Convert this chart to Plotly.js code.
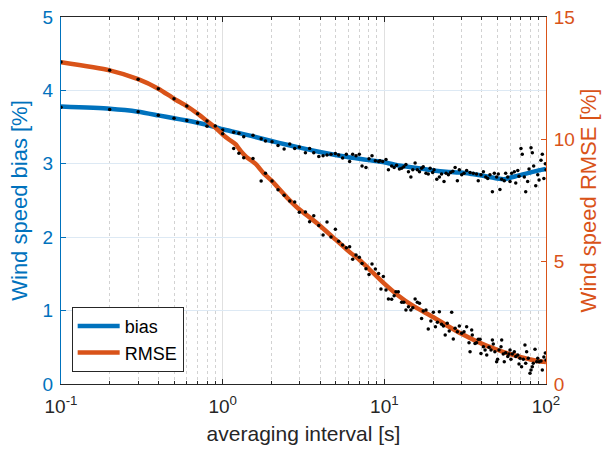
<!DOCTYPE html>
<html>
<head>
<meta charset="utf-8">
<script src="https://cdn.plot.ly/plotly-3.0.1.min.js"></script>
<style>html,body{margin:0;padding:0;background:#fff;}#chart{width:604px;height:454px;}</style>
</head>
<body>
<div id="chart"></div>
<script>
// Smooth lines
var biasLineX = [0.1,0.2,0.3,0.4,0.5,0.6,0.7,0.8,0.9,1,1.2,1.5,2,2.5,3,4,5,6,7,8,10,12,15,20,25,30,35,40,45,50,55,60,70,80,90,100];
var biasLineY = [3.78,3.75,3.71,3.66,3.62,3.59,3.56,3.53,3.50,3.47,3.43,3.38,3.31,3.26,3.22,3.16,3.12,3.09,3.07,3.05,3.02,2.98,2.95,2.91,2.89,2.88,2.86,2.84,2.82,2.80,2.79,2.81,2.85,2.88,2.91,2.93];
var rmseLineX = [0.1,0.2,0.3,0.4,0.5,0.6,0.7,0.8,0.9,1,1.1,1.2,1.3,1.4,1.6,1.8,2,2.5,3,3.5,4,5,6,7,8,10,12,15,20,25,30,40,50,60,70,80,90,100];
var rmseLineY = [13.15,12.82,12.46,12.07,11.66,11.36,11.05,10.75,10.48,10.2,9.98,9.8,9.5,9.28,9.0,8.6,8.32,7.62,7.12,6.78,6.47,5.9,5.43,5.08,4.72,4.1,3.65,3.2,2.74,2.35,2.05,1.65,1.4,1.22,1.1,1.0,0.93,0.9];

// Scatter dots
var biasDotX = [0.1,0.2,0.3,0.4,0.5,0.6,0.7,0.8,0.9,1.0,1.17,1.26,1.35,1.54,1.73,1.84,2.02,2.2,2.4,2.6,2.79,2.98,3.25,3.45,3.66,3.93,4.18,4.42,4.68,4.98,5.22,5.52,5.82,6.1,6.37,6.68,7.0,7.28,7.7,8.04,8.39,8.8,9.22,9.4,9.77,10.24,10.6,11.1,11.5,11.9,12.4,12.8,13.2,13.6,14.1,14.6,15.0,15.5,16.0,16.5,17.0,17.4,18.1,18.7,19.2,19.9,20.3,21.1,21.9,22.6,23.4,24.1,24.9,25.7,26.5,27.4,28.3,29.1,30.1,31.1,32.3,33.9,35.5,37.2,38.1,39.6,41.0,42.4,43.6,45.0,46.6,47.9,49.5,50.7,51.9,53.2,55.2,56.3,58.0,59.9,61.3,63.7,65.0,66.9,68.1,70.0,71.3,73.4,74.9,77.0,78.5,80.8,82.3,83.9,86.4,88.9,90.6,93.1,94.9,97,99,100];
var biasDotY = [3.77,3.74,3.71,3.66,3.62,3.59,3.56,3.51,3.51,3.46,3.43,3.415,3.37,3.39,3.34,3.31,3.30,3.25,3.20,3.27,3.21,3.23,3.15,3.21,3.15,3.10,3.11,3.12,3.13,3.14,3.12,3.08,3.13,3.03,3.13,3.11,3.13,2.97,2.95,3.07,3.11,3.04,3.03,3.04,3.03,3.06,2.92,2.97,2.95,2.98,2.93,2.94,2.96,2.99,2.89,2.82,2.92,3.01,2.92,2.89,2.94,2.96,2.87,2.86,2.94,2.88,2.92,2.79,2.82,2.86,2.76,2.87,2.85,2.88,2.90,2.95,2.77,2.92,2.85,2.87,2.91,2.88,2.87,2.86,2.77,2.85,2.89,2.82,2.80,2.85,2.62,2.87,2.82,2.86,2.65,2.79,2.77,2.87,2.82,2.76,2.87,2.89,2.74,2.91,2.83,3.21,3.13,2.82,2.62,2.76,2.93,3.22,3.15,2.97,2.70,2.85,2.78,3.05,3.13,2.8,3.0,2.92];
var rmseDotX = [0.1,0.2,0.3,0.4,0.5,0.6,0.7,0.8,0.9,1.0,1.17,1.26,1.35,1.54,1.73,1.84,2.02,2.2,2.4,2.6,2.79,2.98,3.25,3.45,3.66,3.93,4.18,4.42,4.68,4.98,5.22,5.52,5.82,6.1,6.37,6.68,7.0,7.28,7.7,8.04,8.39,8.8,9.22,9.53,9.86,10.24,10.6,11.1,11.5,11.8,12.2,12.8,13.2,13.6,14.1,14.6,15.0,15.5,16.0,16.5,17.0,17.4,18.1,18.7,19.4,20.1,20.7,21.3,21.9,22.6,23.2,23.8,24.5,25.2,26.1,26.7,27.4,28.3,29.1,30.1,31.1,32.3,33.4,33.9,34.7,35.0,36.4,37.2,38.1,39.1,39.6,41.0,42.0,43.0,44.4,45.7,46.6,47.2,48.3,49.5,50.2,51.2,52.7,53.2,54.4,55.2,56.3,58.0,59.0,59.9,60.7,61.9,63.7,65.0,66.9,68.1,69.0,70.6,72.4,74.1,74.9,75.9,77.7,79.6,80.8,82.3,83.4,85.5,87.6,88.9,90.6,93.1,94.9,97,99,100];
var rmseDotY = [13.16,12.82,12.46,12.07,11.66,11.36,11.05,10.75,10.54,10.23,9.63,9.43,9.25,9.22,8.30,8.61,8.30,7.94,7.71,7.48,7.44,7.02,7.03,6.63,6.88,6.48,6.09,6.62,6.01,6.32,5.83,5.68,5.57,5.61,5.10,5.27,5.18,4.93,4.71,4.48,4.90,4.70,4.52,3.88,4.39,3.84,3.47,3.46,3.61,3.77,3.77,3.34,3.34,3.02,3.16,3.02,3.12,3.47,3.34,3.30,2.68,2.98,3.02,2.25,2.57,2.93,2.34,2.52,2.95,2.44,2.37,2.00,2.48,2.17,2.93,1.84,2.28,2.14,2.37,2.07,2.14,2.34,1.69,1.32,2.21,2.00,1.66,1.69,1.83,1.83,1.25,1.52,1.39,1.19,1.50,1.39,1.80,1.63,1.32,0.91,1.01,1.39,1.52,1.80,1.23,0.91,1.28,1.12,1.23,1.39,1.01,1.23,1.32,1.12,1.19,0.82,1.05,0.71,1.01,1.59,0.85,1.32,1.05,0.44,0.57,0.71,0.85,1.42,0.91,1.05,0.91,0.94,0.57,1.1,1.27,0.98];

var xTickVals = [0.1,1,10,100];
var xTickText = ['10<sup>-1</sup>','10<sup>0</sup>','10<sup>1</sup>','10<sup>2</sup>'];

var BLUE = '#0072BD', ORANGE = '#D95319', DARK = '#262626';
var FONT = 'Liberation Sans, Arial, Helvetica, sans-serif';

var traces = [
  {x: biasLineX, y: biasLineY, type:'scatter', mode:'lines', name:'bias', line:{color:BLUE, width:4.5, shape:'spline', smoothing:0.6}, yaxis:'y'},
  {x: rmseLineX, y: rmseLineY, type:'scatter', mode:'lines', name:'RMSE', line:{color:ORANGE, width:4.5, shape:'spline', smoothing:0.6}, yaxis:'y2'},
  {x: biasDotX, y: biasDotY, type:'scatter', mode:'markers', showlegend:false, marker:{color:'#000', size:3.5}, yaxis:'y', hoverinfo:'skip'},
  {x: rmseDotX, y: rmseDotY, type:'scatter', mode:'markers', showlegend:false, marker:{color:'#000', size:3.5}, yaxis:'y2', hoverinfo:'skip'}
];

var layout = {
  width:604, height:454,
  margin:{l:61, r:58, t:17, b:70},
  paper_bgcolor:'#fff', plot_bgcolor:'#fff',
  font:{family:FONT, size:19, color:DARK},
  showlegend:true,
  legend:{x:0.022, y:0.033, xanchor:'left', yanchor:'bottom', bgcolor:'#fff', bordercolor:DARK, borderwidth:1, font:{size:18, color:'#000'}, tracegroupgap:0, itemwidth:42},
  xaxis:{
    type:'log', range:[-1,2],
    tickmode:'array', tickvals:xTickVals, ticktext:xTickText,
    ticks:'inside', ticklen:5, tickcolor:DARK, tickfont:{size:19, color:DARK}, ticklabelstandoff:5,
    showline:true, linecolor:DARK, linewidth:1, mirror:'ticks',
    showgrid:true, gridcolor:'#e0e0e0', gridwidth:1,
    minor:{tickmode:'linear', dtick:'D1', ticks:'inside', ticklen:3, tickcolor:DARK, showgrid:true, gridcolor:'#d2d2d2', griddash:'dot', gridwidth:1},
    zeroline:false,
    title:{text:'averaging interval [s]', font:{size:21, color:DARK}, standoff:10},
    automargin:false
  },
  yaxis:{
    range:[0,5], dtick:1, tick0:0,
    ticks:'inside', ticklen:5, tickcolor:BLUE, tickfont:{size:19, color:BLUE}, ticklabelstandoff:3,
    showline:true, linecolor:BLUE, linewidth:1,
    showgrid:true, gridcolor:'#dde9f4', gridwidth:1,
    zeroline:false,
    title:{text:'Wind speed bias [%]', font:{size:22, color:BLUE}, standoff:8},
    automargin:false
  },
  yaxis2:{
    overlaying:'y', side:'right', range:[0,15], dtick:5, tick0:0,
    ticks:'inside', ticklen:5, tickcolor:ORANGE, tickfont:{size:19, color:ORANGE}, ticklabelstandoff:3,
    showline:true, linecolor:ORANGE, linewidth:1,
    showgrid:false, zeroline:false,
    title:{text:'Wind speed RMSE [%]', font:{size:22, color:ORANGE}, standoff:6},
    automargin:false
  }
};

Plotly.newPlot('chart', traces, layout, {staticPlot:true, displayModeBar:false});
</script>
</body>
</html>
